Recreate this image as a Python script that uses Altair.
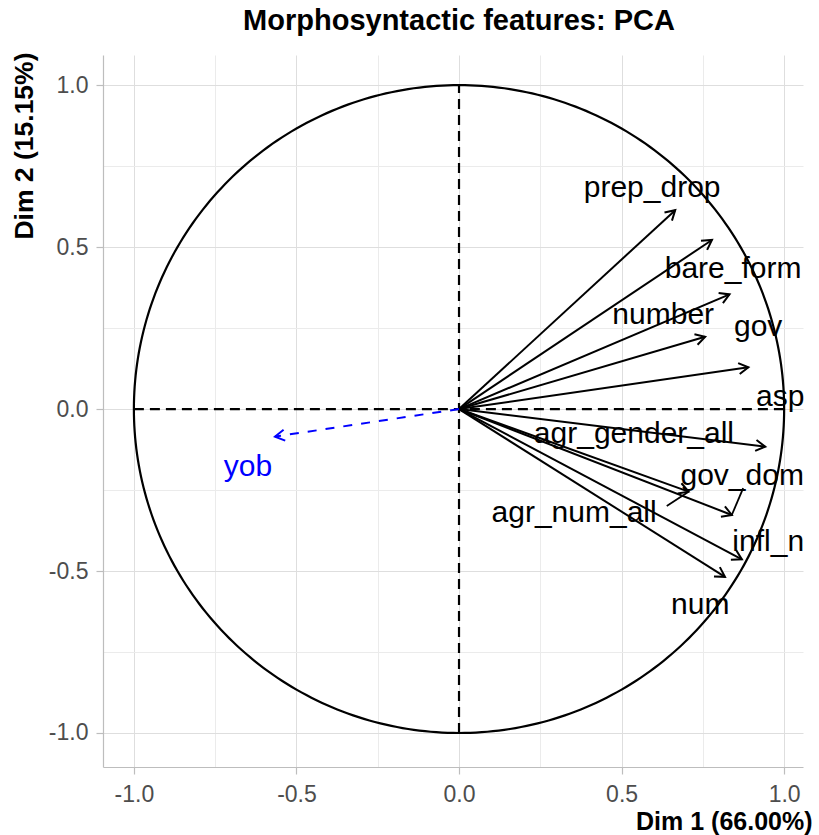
import altair as alt
import pandas as pd

# ---- data ----
variables = ["prep_drop", "bare_form", "gov", "number", "asp",
             "agr_gender_all", "gov_dom", "agr_num_all", "infl_n", "num"]
dim1 = [0.665, 0.778, 0.832, 0.757, 0.890, 0.942, 0.839, 0.706, 0.870, 0.818]
dim2 = [0.614, 0.522, 0.354, 0.223, 0.129, -0.116, -0.327, -0.255, -0.464, -0.518]
label_x = [0.594, 0.843, 0.920, 0.628, 0.988, 0.538, 0.871, 0.354, 0.951, 0.742]
label_y = [0.682, 0.432, 0.253, 0.290, 0.037, -0.077, -0.207, -0.321, -0.410, -0.605]

# repel connector segments (label side -> arrow tip)
seg_vars = ["gov_dom", "agr_num_all"]
seg_x = [0.874, 0.639]
seg_y = [-0.244, -0.299]

sup_var = ["yob"]
sup_dim1 = [-0.566]
sup_dim2 = [-0.085]
sup_label_x = [-0.649]
sup_label_y = [-0.179]

ref_x = [-1.0, 0.0]
ref_x2 = [1.0, 0.0]
ref_y = [0.0, -1.0]
ref_y2 = [0.0, 1.0]

tick_values = [-1.0, -0.75, -0.5, -0.25, 0.0, 0.25, 0.5, 0.75, 1.0]
X_DOMAIN = [-1.095, 1.058]
Y_DOMAIN = [-1.105, 1.093]

# ---- tables ----
active = pd.DataFrame({"var": variables, "dim1": dim1, "dim2": dim2,
                       "lx": label_x, "ly": label_y})
tips = dict(zip(variables, zip(dim1, dim2)))
segs = pd.DataFrame({"var": seg_vars, "sx": seg_x, "sy": seg_y,
                     "ex": [tips[v][0] for v in seg_vars],
                     "ey": [tips[v][1] for v in seg_vars]})
sup = pd.DataFrame({"var": sup_var, "dim1": sup_dim1, "dim2": sup_dim2,
                    "lx": sup_label_x, "ly": sup_label_y})
refs = pd.DataFrame({"x": ref_x, "x2": ref_x2, "y": ref_y, "y2": ref_y2})

FONT = "Liberation Sans"
major = "abs(datum.value * 2 - round(datum.value * 2)) < 0.001"
label_expr = f"({major}) ? ((datum.value < 0 ? '-' : '') + format(abs(datum.value), '.1f')) : ''"

common_axis = dict(
    values=tick_values, labelExpr=label_expr, grid=True,
    gridColor={"condition": {"test": major, "value": "#DEDEDE"}, "value": "#EBEBEB"},
    gridWidth=1,
    tickOpacity={"condition": {"test": major, "value": 1}, "value": 0},
    tickSize=7, tickColor="#BDBDBD", tickWidth=1.2,
    domainColor="#BDBDBD", domainWidth=1.2,
    labelFontSize=23, labelColor="#4D4D4D", labelFont=FONT,
    labelFlush=False, labelOverlap=False,
    titleFont=FONT, titleFontWeight="bold", titleColor="black",
)
xaxis = alt.Axis(title="Dim 1 (66.00%)", labelPadding=9, titleFontSize=25,
                 titleX=709, titleY=62, titleAlign="right", titleAnchor="end",
                 titleBaseline="alphabetic", **common_axis)
yaxis = alt.Axis(title="Dim 2 (15.15%)", labelPadding=8, titleAngle=270, titleFontSize=26.5,
                 titleX=-79, titleY=-3, titleAlign="right", titleBaseline="middle",
                 **common_axis)
xs = alt.Scale(domain=X_DOMAIN, nice=False, zero=False)
ys = alt.Scale(domain=Y_DOMAIN, nice=False, zero=False)


def X(f):
    return alt.X(f"{f}:Q", scale=xs, axis=xaxis)


def Y(f):
    return alt.Y(f"{f}:Q", scale=ys, axis=yaxis)


ARROW = "M -0.866 -0.5 L 0 0 L -0.866 0.5"
ang_expr = "(atan2(-datum.dim2, datum.dim1) * 180 / PI + 360) % 360"

circle = alt.Chart(alt.sequence(0, 361, 1, as_="t")).transform_calculate(
    cx="cos(datum.t * PI / 180)", cy="sin(datum.t * PI / 180)"
).mark_line(color="black", strokeWidth=2.2).encode(
    x=X("cx"), y=Y("cy"), order="t:Q")

ref_lines = alt.Chart(refs).mark_rule(color="black", strokeWidth=2.2, strokeDash=[10, 6]).encode(
    x=X("x"), y=Y("y"), x2="x2:Q", y2="y2:Q")

shafts = alt.Chart(active).transform_calculate(x0="0", y0="0").mark_rule(
    color="black", strokeWidth=2).encode(
    x=X("x0"), y=Y("y0"), x2="dim1:Q", y2="dim2:Q")

heads = alt.Chart(active).transform_calculate(ang=ang_expr).mark_point(
    shape=ARROW, filled=False, size=484, strokeWidth=2, color="black", opacity=1).encode(
    x=X("dim1"), y=Y("dim2"), angle=alt.Angle("ang:Q", scale=None))

connectors = alt.Chart(segs).mark_rule(color="black", strokeWidth=1.8).encode(
    x=X("sx"), y=Y("sy"), x2="ex:Q", y2="ey:Q")

labels = alt.Chart(active).mark_text(
    fontSize=30, font=FONT, align="center", baseline="middle", color="black").encode(
    x=X("lx"), y=Y("ly"), text="var:N")

sup_shaft = alt.Chart(sup).transform_calculate(x0="0", y0="0").mark_rule(
    color="#0000FF", strokeWidth=2, strokeDash=[9, 9]).encode(
    x=X("x0"), y=Y("y0"), x2="dim1:Q", y2="dim2:Q")

sup_head = alt.Chart(sup).transform_calculate(ang=ang_expr).mark_point(
    shape=ARROW, filled=False, size=484, strokeWidth=2, color="#0000FF", opacity=1).encode(
    x=X("dim1"), y=Y("dim2"), angle=alt.Angle("ang:Q", scale=None))

sup_label = alt.Chart(sup).mark_text(
    fontSize=30, font=FONT, align="center", baseline="middle", color="#0000FF").encode(
    x=X("lx"), y=Y("ly"), text="var:N")

chart = alt.layer(
    circle, ref_lines, shafts, heads, connectors, labels, sup_shaft, sup_head, sup_label
).properties(
    width=700, height=712,
    autosize=alt.AutoSizeParams(type="none"),
    padding={"left": 103, "top": 55, "right": 16, "bottom": 68},
    title=alt.TitleParams("Morphosyntactic features: PCA", fontSize=29, font=FONT,
                          fontWeight="bold", color="black", anchor="middle",
                          offset=16, dx=6),
    background="white",
).configure_view(stroke=None)

chart.save("out.html", embed_options={"renderer": "svg", "actions": False})
